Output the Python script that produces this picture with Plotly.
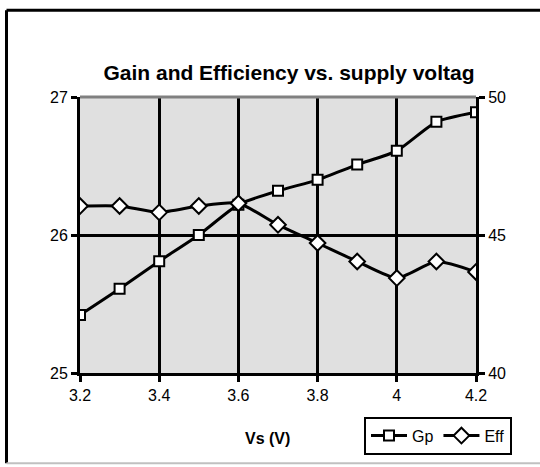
import plotly.graph_objects as go

vs = [3.2, 3.3, 3.4, 3.5, 3.6, 3.7, 3.8, 3.9, 4.0, 4.1, 4.2]
gp = [25.42, 25.61, 25.81, 26.0, 26.22, 26.32, 26.40, 26.51, 26.61, 26.82, 26.89]
eff = [46.05, 46.05, 45.82, 46.05, 46.15, 45.37, 44.71, 44.04, 43.44, 44.04, 43.66]

title_text = "Gain and Efficiency vs. supply voltag"
x_title = "Vs (V)"
FONT = "Liberation Sans, Arial, sans-serif"

fig = go.Figure()
fig.add_trace(go.Scatter(
    x=vs, y=gp, name="Gp", mode="lines+markers",
    line=dict(color="black", width=3, shape="spline", smoothing=0.6),
    marker=dict(symbol="square", size=10, color="white", line=dict(color="black", width=2)),
))
fig.add_trace(go.Scatter(
    x=vs, y=eff, name="Eff", mode="lines+markers", yaxis="y2",
    line=dict(color="black", width=3, shape="spline", smoothing=0.6),
    marker=dict(symbol="diamond", size=12, color="white", line=dict(color="black", width=2)),
))

L, R, T, B = 80, 64, 97, 92
W, H = 540, 467
pw, ph = W - L - R, H - T - B

def px(x):
    return (x - L) / pw

def py(y):
    return (H - B - y) / ph

fig.update_layout(
    width=W, height=H,
    margin=dict(l=L, r=R, t=T, b=B),
    paper_bgcolor="white",
    plot_bgcolor="#e0e0e0",
    font=dict(family=FONT, size=16, color="black"),
    showlegend=True,
    title=dict(text="<b>" + title_text + "</b>", x=289 / W, xanchor="center",
               y=1 - 73 / H, yanchor="middle", font=dict(size=21, family=FONT)),
    xaxis=dict(range=[3.2, 4.2], tickvals=[3.2, 3.4, 3.6, 3.8, 4.0, 4.2],
               ticktext=["3.2", "3.4", "3.6", "3.8", "4", "4.2"],
               showgrid=True, gridcolor="black", gridwidth=3,
               showline=True, linecolor="black", linewidth=3,
               ticks="outside", ticklen=6, tickwidth=3, tickcolor="black",
               zeroline=False, fixedrange=True),
    yaxis=dict(range=[25, 27], tickvals=[25, 26, 27],
               showgrid=True, gridcolor="black", gridwidth=3,
               showline=True, linecolor="black", linewidth=3,
               ticks="outside", ticklen=6, tickwidth=3, tickcolor="black",
               zeroline=False),
    yaxis2=dict(range=[40, 50], tickvals=[40, 45, 50], overlaying="y", side="right",
                showgrid=False, showline=True, linecolor="black", linewidth=3,
                ticks="outside", ticklen=6, tickwidth=3, tickcolor="black",
                zeroline=False),
    legend=dict(orientation="h", x=px(364), y=py(419), xanchor="left", yanchor="top",
                bordercolor="black", borderwidth=2, bgcolor="white",
                font=dict(size=16, family=FONT), itemwidth=36,
                tracegroupgap=0),
)

# top plot-area border (grey)
fig.add_shape(type="line", xref="paper", yref="paper", x0=0, x1=1, y0=1, y1=1,
              line=dict(color="#808080", width=3), layer="above")
# outer chart border
fig.add_shape(type="line", xref="paper", yref="paper", x0=px(6.5), x1=px(6.5), y0=py(9.5), y1=py(466),
              line=dict(color="black", width=3))
fig.add_shape(type="line", xref="paper", yref="paper", x0=px(6.5), x1=px(545), y0=py(9.5), y1=py(9.5),
              line=dict(color="black", width=3))
fig.add_shape(type="line", xref="paper", yref="paper", x0=px(6.5), x1=px(545), y0=py(466), y1=py(466),
              line=dict(color="#c0c0c0", width=2))

fig.add_annotation(text="<b>" + x_title + "</b>", xref="paper", yref="paper",
                   x=px(267), y=py(441), xanchor="center", yanchor="middle",
                   showarrow=False, font=dict(size=16, family=FONT))

fig.write_html("out.html", config={"displayModeBar": False},
               post_script="document.body.style.margin='0';")
